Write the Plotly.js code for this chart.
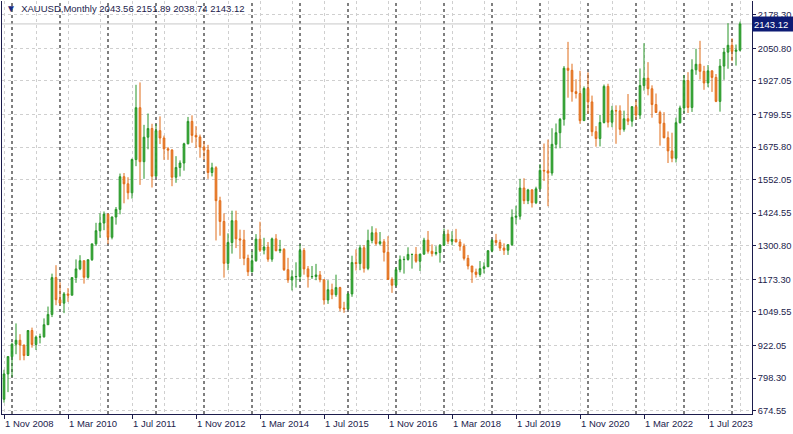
<!DOCTYPE html>
<html><head><meta charset="utf-8">
<script src="https://cdn.plot.ly/plotly-3.0.1.min.js"></script>
<style>html,body{margin:0;padding:0;background:#fff;} #chart{width:793px;height:434px;}</style>
</head><body><div id="chart"></div>
<script>
const months = [
"2008-11","2008-12",
"2009-01","2009-02","2009-03","2009-04","2009-05","2009-06","2009-07","2009-08","2009-09","2009-10","2009-11","2009-12",
"2010-01","2010-02","2010-03","2010-04","2010-05","2010-06","2010-07","2010-08","2010-09","2010-10","2010-11","2010-12",
"2011-01","2011-02","2011-03","2011-04","2011-05","2011-06","2011-07","2011-08","2011-09","2011-10","2011-11","2011-12",
"2012-01","2012-02","2012-03","2012-04","2012-05","2012-06","2012-07","2012-08","2012-09","2012-10","2012-11","2012-12",
"2013-01","2013-02","2013-03","2013-04","2013-05","2013-06","2013-07","2013-08","2013-09","2013-10","2013-11","2013-12",
"2014-01","2014-02","2014-03","2014-04","2014-05","2014-06","2014-07","2014-08","2014-09","2014-10","2014-11","2014-12",
"2015-01","2015-02","2015-03","2015-04","2015-05","2015-06","2015-07","2015-08","2015-09","2015-10","2015-11","2015-12",
"2016-01","2016-02","2016-03","2016-04","2016-05","2016-06","2016-07","2016-08","2016-09","2016-10","2016-11","2016-12",
"2017-01","2017-02","2017-03","2017-04","2017-05","2017-06","2017-07","2017-08","2017-09","2017-10","2017-11","2017-12",
"2018-01","2018-02","2018-03","2018-04","2018-05","2018-06","2018-07","2018-08","2018-09","2018-10","2018-11","2018-12",
"2019-01","2019-02","2019-03","2019-04","2019-05","2019-06","2019-07","2019-08","2019-09","2019-10","2019-11","2019-12",
"2020-01","2020-02","2020-03","2020-04","2020-05","2020-06","2020-07","2020-08","2020-09","2020-10","2020-11","2020-12",
"2021-01","2021-02","2021-03","2021-04","2021-05","2021-06","2021-07","2021-08","2021-09","2021-10","2021-11","2021-12",
"2022-01","2022-02","2022-03","2022-04","2022-05","2022-06","2022-07","2022-08","2022-09","2022-10","2022-11","2022-12",
"2023-01","2023-02","2023-03","2023-04","2023-05","2023-06","2023-07","2023-08","2023-09","2023-10","2023-11","2023-12",
"2024-01","2024-02","2024-03"];

const open = [
718,814,
880,927,942,924,884,979,926,954,955,1001,1040,1180,
1096,1083,1118,1113,1180,1213,1244,1181,1248,1308,1358,1387,
1421,1333,1410,1439,1563,1536,1502,1628,1825,1620,1713,1746,
1565,1738,1710,1669,1664,1561,1598,1615,1688,1773,1720,1714,
1676,1664,1579,1597,1472,1393,1234,1313,1396,1327,1323,1253,
1202,1244,1326,1284,1296,1250,1327,1282,1287,1210,1171,1183,
1184,1283,1213,1183,1184,1190,1172,1095,1134,1115,1142,1064,
1061,1118,1237,1233,1293,1215,1321,1350,1309,1316,1276,1173,
1151,1210,1248,1249,1268,1268,1242,1269,1322,1280,1271,1275,
1303,1345,1318,1325,1315,1299,1253,1224,1201,1192,1214,1221,
1282,1321,1313,1292,1284,1305,1409,1413,1520,1472,1513,1464,
1517,1587,1585,1577,1686,1730,1781,1975,1967,1886,1879,1776,
1898,1847,1734,1708,1769,1906,1770,1814,1813,1743,1783,1774,
1829,1797,1909,1937,1897,1837,1807,1766,1711,1661,1633,1768,
1824,1928,1826,1969,1990,1963,1919,1965,1940,1849,1983,2036,
2062,2039,2043.56];

const high = [
830,881,
933,1006,965,925,981,990,960,967,1025,1070,1195,1227,
1162,1125,1140,1180,1249,1265,1244,1248,1308,1388,1424,1431,
1423,1412,1448,1575,1577,1561,1632,1912,1921,1760,1803,1764,
1763,1792,1719,1676,1668,1641,1625,1692,1790,1796,1755,1723,
1698,1684,1616,1603,1487,1424,1348,1434,1434,1362,1361,1267,
1280,1345,1392,1331,1315,1332,1345,1323,1292,1255,1208,1238,
1307,1292,1224,1224,1232,1205,1172,1170,1157,1191,1145,1088,
1123,1263,1287,1304,1303,1362,1375,1367,1353,1326,1337,1181,
1220,1264,1261,1295,1270,1296,1270,1331,1357,1306,1299,1307,
1366,1362,1356,1365,1326,1309,1266,1224,1214,1243,1238,1284,
1326,1346,1324,1310,1306,1439,1453,1555,1557,1517,1516,1525,
1611,1689,1704,1747,1765,1786,1983,2075,1992,1933,1965,1906,
1959,1871,1755,1798,1913,1916,1832,1834,1834,1814,1877,1831,
1853,1974,2070,1998,1910,1879,1814,1808,1735,1730,1787,1833,
1949,1960,2009,2049,2079,1984,1987,1966,1953,2010,2052,2146,
2088,2065,2151.89];

const low = [
705,745,
802,889,866,866,883,914,905,930,952,1000,1030,1075,
1075,1045,1088,1113,1160,1208,1157,1176,1243,1300,1331,1360,
1308,1325,1381,1420,1462,1477,1480,1603,1532,1555,1667,1522,
1563,1687,1627,1627,1527,1540,1564,1586,1686,1692,1672,1635,
1627,1555,1564,1321,1339,1180,1208,1271,1292,1251,1227,1186,
1200,1240,1277,1268,1240,1240,1280,1273,1205,1160,1131,1142,
1167,1191,1142,1175,1170,1162,1077,1080,1098,1107,1052,1046,
1058,1107,1207,1208,1199,1208,1310,1302,1302,1241,1171,1122,
1146,1200,1195,1244,1214,1236,1205,1267,1271,1260,1264,1237,
1302,1307,1303,1315,1282,1245,1211,1160,1180,1183,1196,1221,
1276,1302,1281,1266,1266,1300,1382,1400,1459,1459,1446,1459,
1517,1547,1451,1567,1670,1671,1757,1863,1848,1860,1764,1775,
1802,1717,1677,1678,1765,1750,1751,1688,1721,1734,1759,1753,
1780,1782,1890,1872,1787,1805,1681,1709,1615,1618,1617,1765,
1805,1805,1809,1950,1932,1893,1903,1885,1846,1810,1931,1973,
2002,1985,2038.74];

const close = [
814,880,
927,942,924,884,979,926,954,955,1001,1040,1180,1096,
1083,1118,1113,1180,1213,1244,1181,1248,1308,1358,1387,1421,
1333,1410,1439,1563,1536,1502,1628,1825,1620,1713,1746,1565,
1738,1710,1669,1664,1561,1598,1615,1688,1773,1720,1714,1676,
1664,1579,1597,1472,1393,1234,1313,1396,1327,1323,1253,1202,
1244,1326,1284,1296,1250,1327,1282,1287,1210,1171,1183,1184,
1283,1213,1183,1184,1190,1172,1095,1134,1115,1142,1064,1061,
1118,1237,1233,1293,1215,1321,1350,1309,1316,1276,1173,1151,
1210,1248,1249,1268,1268,1242,1269,1322,1280,1271,1275,1303,
1345,1318,1325,1315,1299,1253,1224,1201,1192,1214,1221,1282,
1321,1313,1292,1284,1305,1409,1413,1520,1472,1513,1464,1517,
1587,1585,1577,1686,1730,1781,1975,1967,1886,1879,1776,1898,
1847,1734,1708,1769,1906,1770,1814,1813,1743,1783,1774,1829,
1797,1909,1937,1897,1837,1807,1766,1711,1661,1633,1768,1824,
1928,1826,1969,1990,1963,1919,1965,1940,1849,1983,2036,2062,
2039,2044,2143.12];

const xTickMonths = ["2008-11","2010-03","2011-07","2012-11","2014-03","2015-07","2016-11","2018-03","2019-07","2020-11","2022-03","2023-07"];
const xTickLabels = ["1 Nov 2008","1 Mar 2010","1 Jul 2011","1 Nov 2012","1 Mar 2014","1 Jul 2015","1 Nov 2016","1 Mar 2018","1 Jul 2019","1 Nov 2020","1 Mar 2022","1 Jul 2023"];
const yTickVals = [674.55,798.30,922.05,1049.55,1173.30,1300.80,1424.55,1552.05,1675.80,1799.55,1927.05,2050.80,2178.30];
const symbolName = "XAUUSD,Monthly";

const FONT = "Liberation Sans, Arial, sans-serif";
const TXT = "#1c1c4c";
const xs = months.map((m, i) => i);
const tickIdx = xTickMonths.map(m => months.indexOf(m));
const minorIdx = xs.filter(i => i % 8 === 0 && i % 16 !== 0);
const yearStarts = xs.filter(i => months[i].endsWith("-01"));
const n = months.length - 1;

const trace = {
  type: "candlestick",
  x: xs, open: open, high: high, low: low, close: close,
  increasing: {line: {color: "#279427", width: 1}, fillcolor: "#3cb43c"},
  decreasing: {line: {color: "#e06c18", width: 1}, fillcolor: "#f08a3a"},
  whiskerwidth: 0,
  hoverinfo: "skip", showlegend: false
};

const shapes = yearStarts.map(i => ({
  type: "line", xref: "x", yref: "paper", x0: i, x1: i, y0: 0, y1: 1,
  line: {color: "#000000", width: 1, dash: "3px,3px"}, layer: "below"
}));
shapes.push({
  type: "line", xref: "paper", yref: "y", x0: 0, x1: 1, y0: close[n], y1: close[n],
  line: {color: "#c8c8c8", width: 1}, layer: "below"
});

const annotations = tickIdx.map((i, k) => ({
  xref: "x", yref: "paper", x: i, y: 0, xanchor: "left", yanchor: "top",
  text: xTickLabels[k], showarrow: false, xshift: -1, yshift: -2,
  font: {family: FONT, size: 9.5, color: TXT}
}));
annotations.push({
  xref: "paper", yref: "y", x: 1, y: close[n], xanchor: "left", yanchor: "middle",
  text: close[n].toFixed(2), showarrow: false, bgcolor: "#0d1b74",
  font: {family: FONT, size: 9.5, color: "#ffffff"}, width: 38, height: 12,
  align: "left", borderpad: 1, xshift: 0
});
annotations.push({
  xref: "paper", yref: "paper", x: 0, y: 1, xanchor: "left", yanchor: "top",
  text: '<span style="color:#1b2a80;font-size:10px">▼</span>  ' + symbolName + ' ' +
        [open[n], high[n], low[n], close[n]].map(v => v.toFixed(2)).join(' '),
  showarrow: false, xshift: 2, yshift: 0,
  font: {family: FONT, size: 9.5, color: TXT}
});

const layout = {
  width: 793, height: 434,
  margin: {l: 2, r: 41, t: 1, b: 20, pad: 0},
  paper_bgcolor: "#ffffff", plot_bgcolor: "#ffffff",
  boxgap: 0.4,
  showlegend: false,
  xaxis: {
    range: [-0.5, 187], rangeslider: {visible: false},
    tickmode: "array", tickvals: tickIdx, showticklabels: false,
    ticks: "outside", ticklen: 4, tickcolor: TXT,
    showgrid: true, gridcolor: "#cfcfcf", griddash: "3px,3px", gridwidth: 1,
    minor: {tickmode: "array", tickvals: minorIdx, showgrid: true, gridcolor: "#cfcfcf", griddash: "3px,3px", ticks: ""},
    showline: true, linecolor: TXT, linewidth: 1, zeroline: false, fixedrange: true
  },
  yaxis: {
    side: "right", range: [662.0, 2230.2],
    tickmode: "array", tickvals: yTickVals, ticktext: yTickVals.map(v => v.toFixed(2)),
    ticks: "outside", ticklen: 3, tickcolor: TXT,
    tickfont: {family: FONT, size: 9.3, color: TXT},
    showgrid: true, gridcolor: "#cfcfcf", griddash: "3px,3px", gridwidth: 1,
    showline: true, mirror: true, linecolor: TXT, linewidth: 1, zeroline: false, fixedrange: true
  },
  shapes: shapes,
  annotations: annotations
};

Plotly.newPlot("chart", [trace], layout, {displayModeBar: false, staticPlot: true});
</script>
</body></html>
